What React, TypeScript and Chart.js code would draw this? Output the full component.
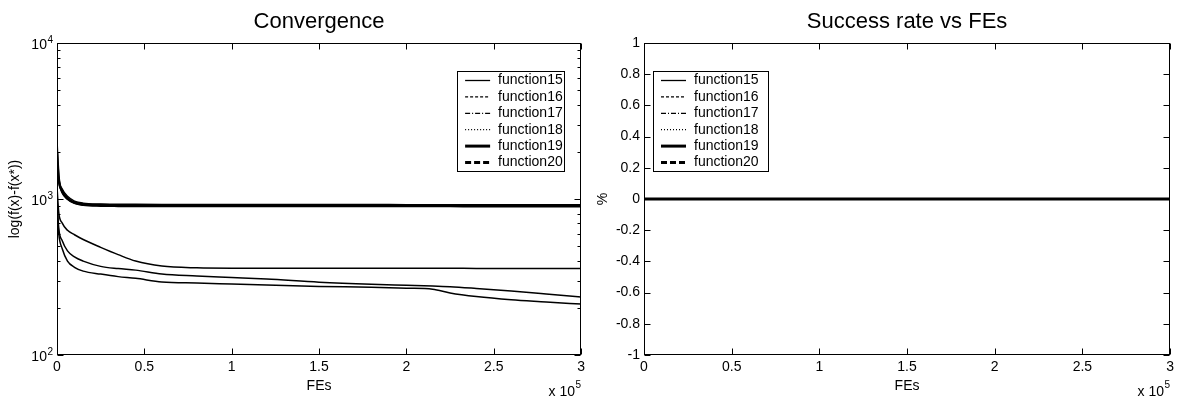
import React, { useEffect, useRef } from "react";
import { Chart, registerables } from "chart.js";

Chart.register(...registerables);

const FONT = '"Liberation Sans", Arial, Helvetica, sans-serif';

// ---------- data (Convergence) ----------
const FES = [0, 1000, 3000, 6000, 10000, 15000, 25000, 35000, 45000, 60000, 80000, 100000, 120000, 150000, 180000, 200000, 215000, 225000, 240000, 260000, 280000, 300000];
const F15 = [1200, 820, 700, 630, 590, 550, 490, 440, 400, 372, 362, 360, 360, 360, 360, 360, 360, 360, 359, 359, 358, 358];
const F16 = [1000, 650, 540, 465, 425, 400, 370, 358, 350, 330, 321, 314, 307, 293, 284, 280, 277, 274, 267, 257, 246, 235];
const F17 = [900, 600, 480, 400, 365, 345, 330, 318, 310, 294, 289, 285, 281, 275, 272, 268, 264, 250, 237, 226, 219, 212];
const F18 = [2400, 1400, 1160, 1040, 970, 940, 928, 925, 924, 923, 922, 922, 921, 921, 921, 920, 920, 920, 920, 920, 920, 920];
const F19 = [2000, 1350, 1120, 1010, 950, 925, 914, 911, 910, 909, 909, 908, 908, 908, 908, 908, 908, 907, 907, 907, 907, 907];
const F20 = [1600, 1300, 1100, 1000, 940, 915, 903, 900, 899, 898, 898, 897, 897, 897, 897, 897, 897, 897, 896, 896, 896, 896];

// ---------- data (Success rate) ----------
const SR_FES = [0, 300000];
const S15 = [0, 0];
const S16 = [0, 0];
const S17 = [0, 0];
const S18 = [0, 0];
const S19 = [0, 0];
const S20 = [0, 0];

const LABELS = ["function15", "function16", "function17", "function18", "function19", "function20"];
const LOG_MINOR_TICKS = [100, 200, 300, 400, 500, 600, 700, 800, 900, 1000, 2000, 3000, 4000, 5000, 6000, 7000, 8000, 9000, 10000];
const LOG_MAJOR_TICKS = [100, 1000, 10000];

// legend line styles
const LEG_DASH: number[][] = [[], [3, 2], [5, 2, 1, 2], [1, 2], [], [6, 3]];
const LEG_WIDTH = [1.3, 1.3, 1.3, 1.3, 3, 3];

const toPts = (xs: number[], ys: number[]) => xs.map((x, i) => ({ x, y: ys[i] }));

function drawLegend(ctx: CanvasRenderingContext2D, bx: number, by: number, bw: number, bh: number) {
  ctx.save();
  ctx.fillStyle = "#fff";
  ctx.fillRect(bx, by, bw, bh);
  ctx.strokeStyle = "#000";
  ctx.lineWidth = 1;
  ctx.setLineDash([]);
  ctx.strokeRect(Math.round(bx) + 0.5, Math.round(by) + 0.5, Math.round(bw), Math.round(bh));
  ctx.font = `14px ${FONT}`;
  ctx.fillStyle = "#000";
  ctx.textBaseline = "middle";
  ctx.textAlign = "left";
  LABELS.forEach((lab, i) => {
    const y = by + 9.5 + i * 16.4;
    ctx.beginPath();
    ctx.setLineDash(LEG_DASH[i]);
    ctx.lineWidth = LEG_WIDTH[i];
    ctx.moveTo(bx + 8, y);
    ctx.lineTo(bx + 33, y);
    ctx.stroke();
    ctx.setLineDash([]);
    ctx.fillText(lab, bx + 41, y);
  });
  ctx.restore();
}

function drawSci(ctx: CanvasRenderingContext2D, right: number, yBase: number, ySup: number, prefix: string, exp: string) {
  ctx.save();
  ctx.fillStyle = "#000";
  ctx.textBaseline = "middle";
  ctx.textAlign = "right";
  ctx.font = `10px ${FONT}`;
  const w = ctx.measureText(exp).width;
  ctx.fillText(exp, right, ySup);
  ctx.font = `14px ${FONT}`;
  ctx.fillText(prefix, right - w - 0.5, yBase);
  ctx.restore();
}

function makeFramePlugin(kind: "conv" | "sr") {
  return {
    id: "frame_" + kind,
    afterDatasetsDraw(chart: any) {
      const ctx: CanvasRenderingContext2D = chart.ctx;
      const a = chart.chartArea;
      const xs = chart.scales.x;
      const ys = chart.scales.y;
      ctx.save();
      ctx.strokeStyle = "#000";
      ctx.lineWidth = 1;
      ctx.setLineDash([]);
      const L = Math.round(a.left) + 0.5;
      const R = Math.round(a.right) - 0.5;
      const T = Math.round(a.top) + 0.5;
      const B = Math.round(a.bottom) - 0.5;
      ctx.strokeRect(L, T, R - L, B - T);
      ctx.beginPath();
      // x ticks
      xs.ticks.forEach((t: any) => {
        const px = Math.round(xs.getPixelForValue(t.value)) + 0.5;
        ctx.moveTo(px, B);
        ctx.lineTo(px, B - 6);
        ctx.moveTo(px, T);
        ctx.lineTo(px, T + 6);
      });
      if (kind === "conv") {
        LOG_MINOR_TICKS.forEach((v) => {
          const major = LOG_MAJOR_TICKS.includes(v);
          const len = major ? 6 : 3;
          const py = Math.round(ys.getPixelForValue(v)) + 0.5;
          ctx.moveTo(L, py);
          ctx.lineTo(L + len, py);
          ctx.moveTo(R, py);
          ctx.lineTo(R - len, py);
        });
      } else {
        ys.ticks.forEach((t: any) => {
          const py = Math.round(ys.getPixelForValue(t.value)) + 0.5;
          ctx.moveTo(L, py);
          ctx.lineTo(L + 6, py);
          ctx.moveTo(R, py);
          ctx.lineTo(R - 6, py);
        });
      }
      ctx.stroke();
      ctx.restore();

      if (kind === "conv") {
        LOG_MAJOR_TICKS.forEach((v) => {
          const py = ys.getPixelForValue(v);
          drawSci(ctx, a.left - 4, py + 2.5, py - 3, "10", String(Math.round(Math.log10(v))));
        });
        drawLegend(ctx, a.right - 124, a.top + 28, 107, 100);
      } else {
        drawLegend(ctx, a.left + 9, a.top + 28, 115, 100);
      }
      drawSci(ctx, a.right, 392, 385, "x 10", "5");
    },
  };
}

function lineDs(label: string, xs: number[], ys: number[], width: number) {
  return {
    label,
    data: toPts(xs, ys),
    borderColor: "#000",
    backgroundColor: "#000",
    borderWidth: width,
    pointRadius: 0,
    fill: false,
    cubicInterpolationMode: "monotone" as const,
  };
}

function xScale() {
  return {
    type: "linear" as const,
    min: 0,
    max: 300000,
    ticks: {
      stepSize: 50000,
      autoSkip: false,
      maxRotation: 0,
      padding: 4,
      color: "#000",
      font: { family: FONT, size: 14 },
      callback: (v: any) => String(Number((v / 100000).toFixed(1))),
    },
    grid: { display: false, drawTicks: false },
    border: { display: false },
    title: {
      display: true,
      text: "FEs",
      color: "#000",
      font: { family: FONT, size: 14 },
      padding: { top: 0, bottom: 8 },
    },
    afterFit: (s: any) => {
      s.height = 48;
    },
  };
}

function titleOpts(text: string) {
  return {
    display: true,
    text,
    fullSize: false,
    color: "#000",
    font: { family: FONT, size: 22, weight: "normal" as const },
    padding: { top: 9, bottom: 7.6 },
  };
}

export default function App() {
  const c1 = useRef<HTMLCanvasElement>(null);
  const c2 = useRef<HTMLCanvasElement>(null);

  useEffect(() => {
    const conv = new Chart(c1.current as HTMLCanvasElement, {
      type: "line",
      data: {
        datasets: [
          lineDs(LABELS[0], FES, F15, 1.5),
          lineDs(LABELS[1], FES, F16, 1.5),
          lineDs(LABELS[2], FES, F17, 1.5),
          lineDs(LABELS[3], FES, F18, 1.5),
          lineDs(LABELS[4], FES, F19, 2.5),
          lineDs(LABELS[5], FES, F20, 2),
        ],
      },
      options: {
        responsive: false,
        animation: false,
        events: [],
        layout: { padding: { left: 0, right: 6, top: 0, bottom: 0 } },
        plugins: {
          legend: { display: false },
          tooltip: { enabled: false },
          title: titleOpts("Convergence"),
        },
        scales: {
          x: xScale(),
          y: {
            type: "logarithmic",
            min: 100,
            max: 10000,
            ticks: { display: false },
            grid: { display: false, drawTicks: false },
            border: { display: false },
            title: {
              display: true,
              text: "log(f(x)-f(x*))",
              color: "#000",
              font: { family: FONT, size: 14 },
              padding: { top: 6.6, bottom: 0 },
            },
            afterFit: (s: any) => {
              s.width = 57;
            },
          },
        },
      } as any,
      plugins: [makeFramePlugin("conv")],
    });

    const sr = new Chart(c2.current as HTMLCanvasElement, {
      type: "line",
      data: {
        datasets: [
          lineDs(LABELS[0], SR_FES, S15, 1.5),
          lineDs(LABELS[1], SR_FES, S16, 1.5),
          lineDs(LABELS[2], SR_FES, S17, 1.5),
          lineDs(LABELS[3], SR_FES, S18, 1.5),
          lineDs(LABELS[4], SR_FES, S19, 3),
          lineDs(LABELS[5], SR_FES, S20, 2),
        ],
      },
      options: {
        responsive: false,
        animation: false,
        events: [],
        layout: { padding: { left: 0, right: 6, top: 0, bottom: 0 } },
        plugins: {
          legend: { display: false },
          tooltip: { enabled: false },
          title: titleOpts("Success rate vs FEs"),
        },
        scales: {
          x: xScale(),
          y: {
            type: "linear",
            min: -1,
            max: 1,
            ticks: {
              stepSize: 0.2,
              padding: 4,
              color: "#000",
              font: { family: FONT, size: 14 },
              callback: (v: any) => String(Number(Number(v).toFixed(1))),
            },
            grid: { display: false, drawTicks: false },
            border: { display: false },
            title: {
              display: true,
              text: "%",
              color: "#000",
              font: { family: FONT, size: 14 },
              padding: { top: 5.6, bottom: 0 },
            },
            afterFit: (s: any) => {
              s.width = 55;
            },
          },
        },
      } as any,
      plugins: [makeFramePlugin("sr")],
    });

    return () => {
      conv.destroy();
      sr.destroy();
    };
  }, []);

  return (
    <div
      style={{
        position: "fixed",
        left: 0,
        top: 0,
        width: 1178,
        height: 403,
        background: "#fff",
        display: "flex",
      }}
    >
      <canvas ref={c1} width={589} height={403} style={{ display: "block", width: 589, height: 403 }} />
      <canvas ref={c2} width={589} height={403} style={{ display: "block", width: 589, height: 403 }} />
    </div>
  );
}
